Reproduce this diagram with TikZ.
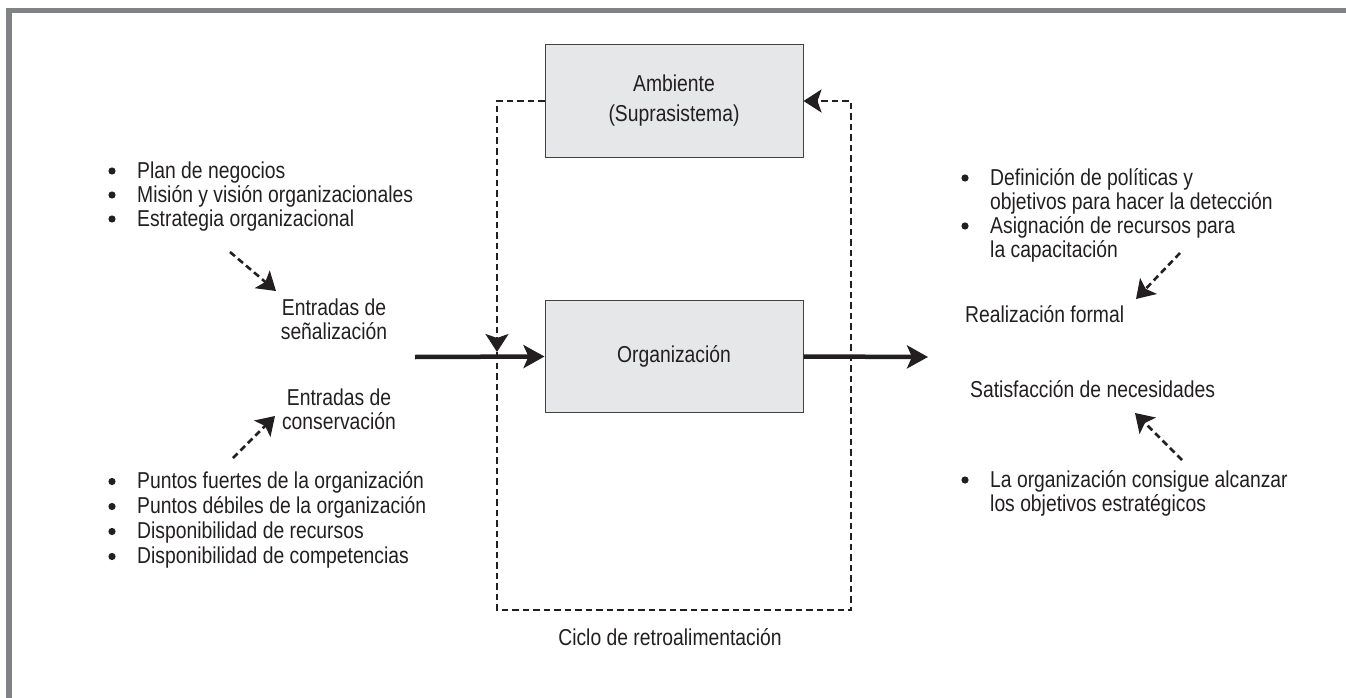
\documentclass[tikz,border=0pt]{standalone}
\usepackage{fontspec}
\setmainfont{Liberation Sans}[FakeStretch=0.84]
\usetikzlibrary{arrows.meta}
\definecolor{frame}{HTML}{808285}
\definecolor{boxfill}{HTML}{E6E7E8}
\definecolor{ink}{HTML}{231F20}
\begin{document}
\begin{tikzpicture}[x=1pt,y=-1pt,
  every node/.style={font=\fontsize{23}{24}\selectfont, text=ink, inner sep=0pt},
  sysbox/.style={draw=ink!85, line width=1pt, fill=boxfill, minimum width=258pt, minimum height=112pt, align=center},
  flow/.style={draw=ink, line width=4.5pt, -{Stealth[length=21pt,width=23pt,inset=5pt]}},
  loop/.style={draw=ink, line width=2.6pt, dash pattern=on 6.5pt off 4pt},
  looptip/.style={-{Stealth[length=18pt,width=23pt,inset=4pt]}},
  hint/.style={draw=ink, line width=2.6pt, dash pattern=on 6.5pt off 4pt, -{Stealth[length=18pt,width=23pt,inset=4pt]}},
  item/.style={anchor=base west},
  dot/.style={fill=ink}
]
\useasboundingbox (0,0) rectangle (1346,698);
% frame
\fill[frame] (6,8) rectangle (1346,13.5);
\fill[frame] (6,8) rectangle (12,698);

% boxes
\node[sysbox] (amb) at (674,101) {Ambiente\\[6pt](Suprasistema)};
\node[sysbox] (org) at (674,356.5) {Organización};

% feedback loop
\coordinate (fm) at (497,352);
\coordinate (fb) at (497,610);
\coordinate (fbr) at (851,610);
\coordinate (ftr) at (851,101);
\draw[loop, looptip] (amb.west) -| (fm);
\draw[loop, looptip] (fm) -- (fb) -- (fbr) -- (ftr) -- (amb.east);
\node (ciclo) at (670,637) {Ciclo de retroalimentación};

% main flow
\coordinate (in) at (415,357);
\coordinate (out) at (928,357);
\draw[flow] (in) -- (org.west);
\draw[flow] (org.east) -- (out);

% left top list
\node[item] (l1a) at (137,178) {Plan de negocios};
\node[item] (l1b) at (137,202) {Misión y visión organizacionales};
\node[item] (l1c) at (137,226) {Estrategia organizacional};
\foreach \y in {171,195,219} \fill[dot] (112,\y) circle (3.6pt);

\node[align=center] (ens) at (334,319) {Entradas de\\señalización};
\node[align=center] (enc) at (339,409) {Entradas de\\conservación};

% left bottom list
\node[item] (l2a) at (137,488.5) {Puntos fuertes de la organización};
\node[item] (l2b) at (137,513.5) {Puntos débiles de la organización};
\node[item] (l2c) at (137,538.5) {Disponibilidad de recursos};
\node[item] (l2d) at (137,563.5) {Disponibilidad de competencias};
\foreach \y in {481.5,506.5,531.5,556.5} \fill[dot] (112,\y) circle (3.6pt);

\coordinate (a1s) at (230,252);
\coordinate (a1e) at (276,291);
\draw[hint] (a1s) -- (a1e);
\coordinate (a2s) at (233,458);
\coordinate (a2e) at (275,416);
\draw[hint] (a2s) -- (a2e);

% right top list
\node[item] (r1a) at (990,185) {Definición de políticas y};
\node[item] (r1b) at (990,209) {objetivos para hacer la detección};
\node[item] (r1c) at (990,233) {Asignación de recursos para};
\node[item] (r1d) at (990,257) {la capacitación};
\foreach \y in {178,226} \fill[dot] (965,\y) circle (3.6pt);

\node[anchor=west] (rf) at (965,314) {Realización formal};
\node[anchor=west] (sn) at (970,389) {Satisfacción de necesidades};

% right bottom list
\node[item] (r2a) at (990,487) {La organización consigue alcanzar};
\node[item] (r2b) at (990,511) {los objetivos estratégicos};
\fill[dot] (965,480) circle (3.6pt);

\coordinate (a3s) at (1180,253);
\coordinate (a3e) at (1136,299);
\draw[hint] (a3s) -- (a3e);
\coordinate (a4s) at (1182,460);
\coordinate (a4e) at (1135,413);
\draw[hint] (a4s) -- (a4e);
\end{tikzpicture}
\end{document}
